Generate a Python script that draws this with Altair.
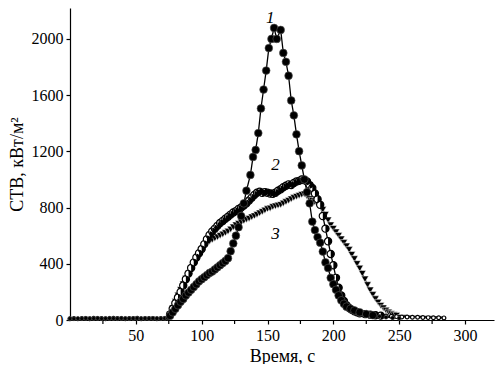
import altair as alt
import pandas as pd

# ---- data ----
flat_t = [0, 3, 6, 9, 12, 15, 18, 21, 24, 27, 30, 33, 36, 39, 42, 45, 48, 51, 54, 57, 60, 63, 66, 69, 72]

s1_t = flat_t + [74, 76, 78, 80, 82, 84, 86, 88, 90, 92, 94, 96, 98, 100, 102, 104, 106, 108, 110, 112,
                 114, 116, 118, 120, 122, 124, 126, 128, 130, 132, 134,
                 137, 139, 141, 143, 145, 147, 149, 151, 153, 155, 157, 160,
                 162, 164, 166, 168, 170, 172, 174, 176, 178, 180, 182, 184, 186, 188, 190, 192, 194, 196,
                 198, 200, 202, 204, 206, 208, 210, 213, 216, 220, 225, 230, 235, 240, 245, 250]
s1_v = [10, 9, 11, 10, 12, 10, 11, 12, 10, 11, 12, 11, 10, 12, 11, 10, 11, 12, 10, 11, 10, 12, 11, 10, 12,
        15, 30, 55, 80, 105, 130, 150, 175, 195, 215, 235, 255, 275, 290, 305, 320, 335, 345, 360, 375,
        390, 405, 420, 440, 490, 545, 600, 660, 740, 830, 920,
        1032, 1160, 1210, 1330, 1505, 1640, 1775, 1935, 2000, 2078, 2000, 2064,
        1900, 1837, 1738, 1562, 1456, 1321, 1201, 1100, 1000, 910, 830, 700, 640, 590, 550, 487, 410, 370,
        300, 255, 215, 175, 140, 115, 95, 80, 68, 55, 42, 34, 26, 20, 15, 12]

s2_t = flat_t + [74, 76, 78, 80, 82, 84, 86, 88, 90, 92, 94, 96, 98, 100, 102, 104, 106, 108, 110, 112,
                 114, 116, 118, 120, 122, 124, 126, 128, 130, 132, 134, 136, 138, 140, 142, 144, 146, 148, 150, 152,
                 154, 156, 158, 160, 162, 164, 166, 168, 170, 172, 174, 176, 178, 180, 182, 184, 186, 188, 190, 192,
                 194, 196, 198, 200, 202, 204, 206, 208, 210, 212, 214, 216, 218, 220,
                 224, 228, 232, 236, 240, 244, 248, 252, 256, 260, 264, 268, 272, 276, 280, 284]
s2_v = [9, 10, 8, 11, 10, 9, 12, 10, 11, 9, 10, 12, 11, 10, 9, 11, 10, 12, 9, 10, 11, 10, 9, 11, 10,
        12, 40, 80, 120, 160, 200, 245, 290, 330, 370, 410, 445, 475, 505, 540, 575, 605, 630, 650, 670,
        690, 705, 720, 735, 750, 765, 775, 790, 800, 815, 830, 850, 870, 890, 905, 912, 905, 910, 905, 900,
        898, 905, 920, 930, 945, 955, 965, 960, 975, 985, 990, 1000, 995, 985, 960, 940, 900, 860, 820, 740,
        650, 560, 470, 390, 300, 230, 175, 135, 105, 85, 72, 62, 55, 48,
        42, 38, 34, 31, 28, 26, 24, 22, 21, 20, 19, 18, 17, 16, 16, 15]

s3_t = flat_t + [74, 76, 78, 80, 82, 84, 86, 88, 90, 92, 94, 96, 98, 100, 102, 104, 106, 108, 110, 112,
                 114, 116, 118, 120, 122, 124, 126, 128, 130, 132, 134, 136, 138, 140, 142, 144, 146, 148, 150, 152,
                 154, 156, 158, 160, 162, 164, 166, 168, 170, 172, 174, 176, 178, 180, 182, 184, 186, 188, 190, 192,
                 194, 196, 198, 200, 202, 204, 206, 208, 210, 212, 214, 216, 218, 220, 222, 224, 226, 228, 230, 232,
                 234, 236, 238, 240, 242, 244, 246, 248, 250,
                 254, 258, 262, 266, 270, 274, 278, 282]
s3_v = [8, 9, 10, 8, 9, 10, 9, 8, 10, 9, 8, 10, 9, 8, 10, 9, 8, 9, 10, 8, 9, 10, 8, 9, 10,
        12, 40, 85, 130, 175, 215, 255, 295, 330, 365, 400, 430, 460, 490, 520, 545, 560, 570, 580, 590,
        600, 610, 620, 630, 645, 660, 675, 685, 695, 705, 715, 722, 732, 740, 750, 760, 770, 780, 790, 795,
        805, 810, 815, 820, 830, 840, 850, 860, 870, 878, 885, 892, 895, 880, 862, 850, 838, 825, 813, 785,
        750, 710, 675, 650, 625, 600, 575, 550, 525, 500, 465, 435, 400, 367, 330, 290, 250, 212, 180, 150,
        125, 102, 85, 68, 55, 44, 37, 32, 28,
        25, 23, 21, 20, 19, 18, 17, 16]

curve_labels = ["1", "2", "3"]
label_t = [152, 156, 156]
label_v = [2150, 1106, 613]

x_major = [50, 100, 150, 200, 250, 300]
x_minor = [25, 75, 125, 175, 225, 275]
y_ticks = [0, 200, 400, 600, 800, 1000, 1200, 1400, 1600, 1800, 2000, 2200]

# ---- build table ----
rows = []
for name, ts, vs in [("1", s1_t, s1_v), ("2", s2_t, s2_v), ("3", s3_t, s3_v)]:
    for t, v in zip(ts, vs):
        rows.append({"series": name, "t": t, "v": v})
df = pd.DataFrame(rows)
lab = pd.DataFrame({"txt": curve_labels, "t": label_t, "v": label_v})
minor_df = pd.DataFrame({"t": x_minor})

FONT = "Liberation Serif"
PLOT_W, PLOT_H = 424, 312
x_scale = alt.Scale(domain=[0, 322], nice=False, zero=False)
y_scale = alt.Scale(domain=[0, 2220], nice=False)

x_enc = alt.X("t:Q", scale=x_scale,
              axis=alt.Axis(title="Время, с", values=x_major, format="d",
                            labelOverlap=False, grid=False, tickSize=4, labelPadding=3,
                            titlePadding=4, labelFlush=False))
y_enc = alt.Y("v:Q", scale=y_scale,
              axis=alt.Axis(title="СТВ, кВт/м²", values=y_ticks, format="d",
                            labelExpr="datum.value % 400 === 0 ? datum.label : ''",
                            labelOverlap=False, grid=False, tickSize=4, labelPadding=3,
                            titlePadding=5, labelFlush=False))

base = alt.Chart(df)

lines = base.mark_line(color="black", strokeWidth=1.3).encode(
    x=x_enc, y=y_enc, detail="series:N", order="t:Q")

# minor x ticks (every 25 s) hanging below the axis line
minor_ticks = alt.Chart(minor_df).mark_rule(color="black", strokeWidth=1.2).encode(
    x="t:Q", y=alt.value(PLOT_H), y2=alt.value(PLOT_H + 4))

HALF_DISC = "M 0 -1 A 1 1 0 0 1 0 1 Z"

pts1 = base.transform_filter("datum.series == '1'").mark_point(
    shape="circle", filled=True, color="black", stroke="#555", strokeWidth=0.6, opacity=1).encode(
    x="t:Q", y="v:Q", size=alt.condition("datum.v < 30", alt.value(16), alt.value(60)))

pts2 = base.transform_filter("datum.series == '2'").mark_point(
    shape="circle", filled=True, fill="white", stroke="black", strokeWidth=1.2, opacity=1).encode(
    x="t:Q", y="v:Q", size=alt.condition("datum.v < 30", alt.value(14), alt.value(52)))

pts2h = base.transform_filter("datum.series == '2' && datum.v >= 30").mark_point(
    shape=HALF_DISC, filled=True, fill="black", strokeWidth=0, opacity=1, size=52).encode(
    x="t:Q", y="v:Q")

pts3 = base.transform_filter("datum.series == '3'").mark_point(
    shape="triangle-down", filled=True, fill="black", stroke="white", strokeWidth=0.5, opacity=1).encode(
    x="t:Q", y="v:Q", size=alt.condition("datum.v < 30", alt.value(14), alt.value(52)))

texts = alt.Chart(lab).mark_text(font=FONT, fontSize=17, fontStyle="italic",
                                 color="black", baseline="middle").encode(
    x="t:Q", y="v:Q", text="txt:N")

chart = alt.layer(lines, minor_ticks, pts3, pts2, pts2h, pts1, texts).properties(
    width=PLOT_W, height=PLOT_H,
    autosize=alt.AutoSizeParams(type="none"),
    padding={"left": 62, "top": 0, "right": 2, "bottom": 44},
).configure_view(stroke=None).configure_axis(
    domainColor="black", tickColor="black", labelColor="black", titleColor="black",
    labelFont=FONT, titleFont=FONT, labelFontSize=16, titleFontSize=18,
    titleFontWeight="normal", domainWidth=1.2, tickWidth=1.2,
)

chart.save("out.html", embed_options={"renderer": "svg", "actions": False})
